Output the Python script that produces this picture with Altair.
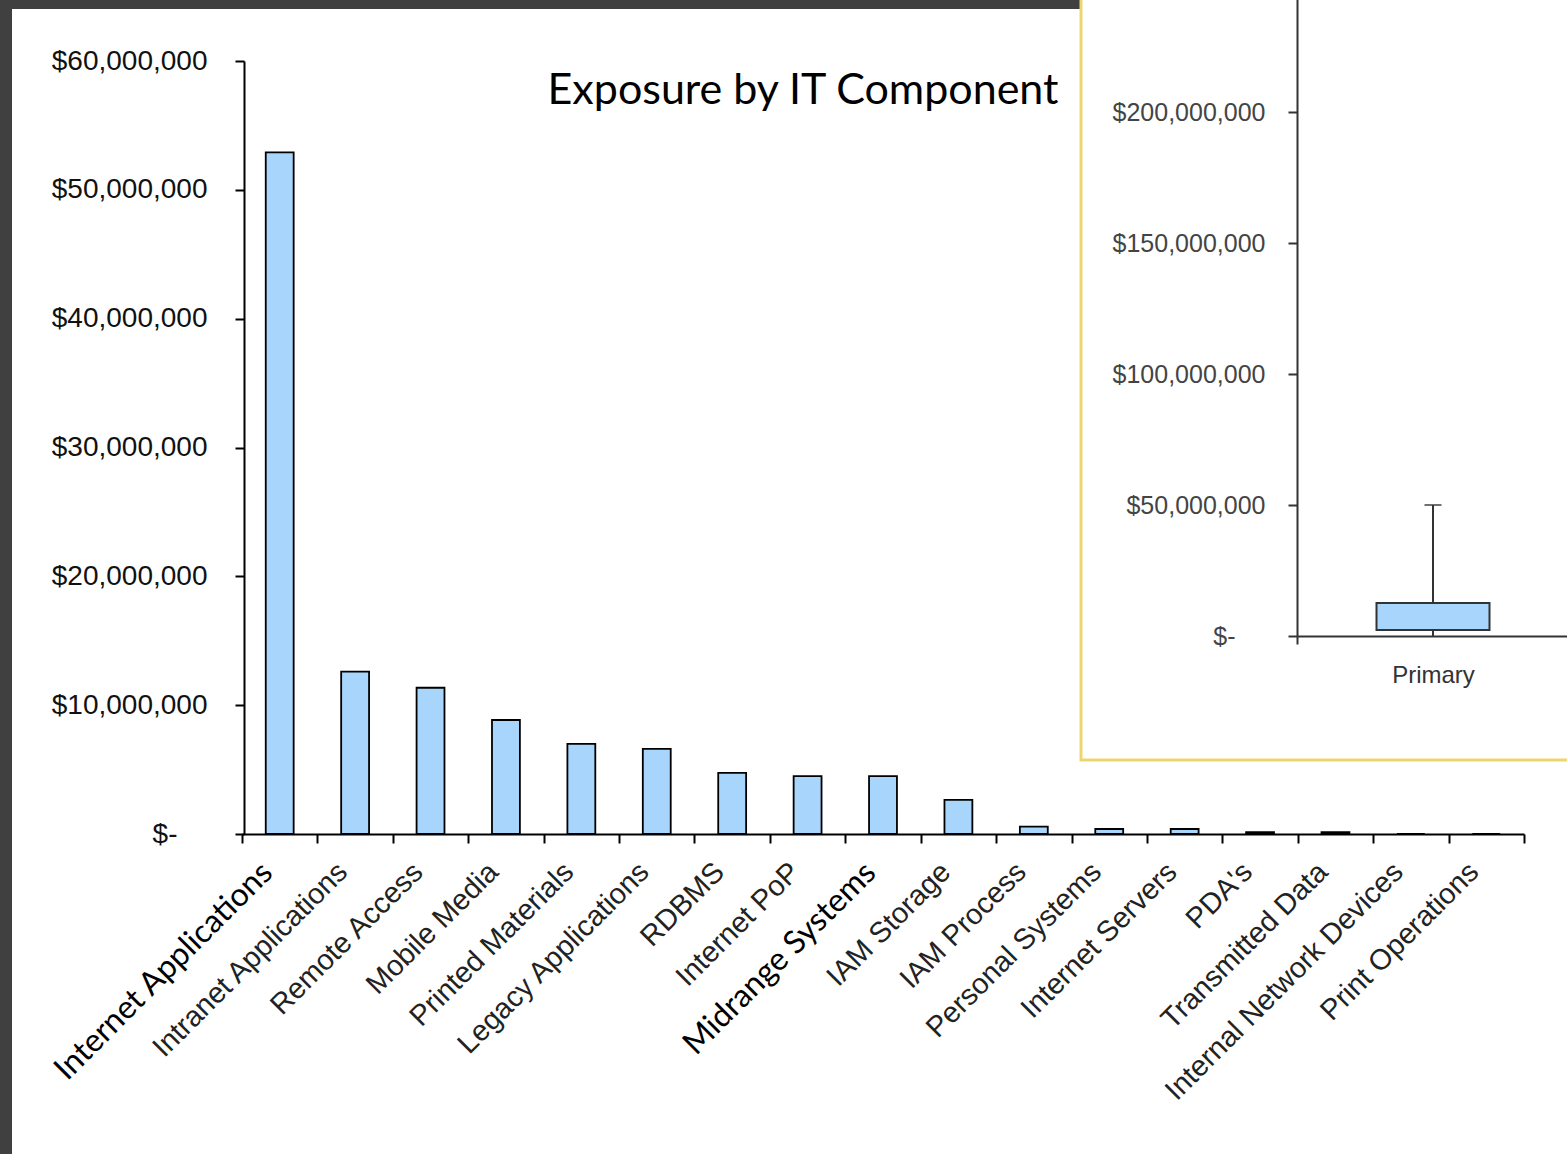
import altair as alt
import pandas as pd

# ---------------- data ----------------
categories = ["Internet Applications", "Intranet Applications", "Remote Access", "Mobile Media",
              "Printed Materials", "Legacy Applications", "RDBMS", "Internet PoP", "Midrange Systems",
              "IAM Storage", "IAM Process", "Personal Systems", "Internet Servers", "PDA's",
              "Transmitted Data", "Internal Network Devices", "Print Operations"]
exposure = [52900000, 12600000, 11350000, 8850000, 7000000, 6600000, 4750000, 4500000, 4500000,
            2650000, 570000, 390000, 390000, 150000, 150000, 0, 0]
main_ticks = [10000000, 20000000, 30000000, 40000000, 50000000, 60000000]
zero_tick = [0]

box_group = ["Primary"]
box_low = [0]
box_q1 = [2300000]
box_q3 = [12600000]
box_high = [50000000]
inset_ticks = [50000000, 100000000, 150000000, 200000000]

title_text = "Exposure by IT Component"
big_labels = ["Internet Applications", "Midrange Systems"]

# ---------------- styles ----------------
W, H = 1567, 1154
BLUE = "#a8d5fb"
big_test = " || ".join([f"datum.value == \"{b}\"" for b in big_labels])

df = pd.DataFrame({"component": categories, "exposure": exposure})
box_df = pd.DataFrame({"group": box_group, "low": box_low, "q1": box_q1, "q3": box_q3, "high": box_high})
one = pd.DataFrame({"k": [0]})

# gray slide frame
frame_top = alt.Chart(one).mark_rect(fill="#404040").encode(
    x=alt.value(0), x2=alt.value(1082), y=alt.value(0), y2=alt.value(9))
frame_left = alt.Chart(one).mark_rect(fill="#404040").encode(
    x=alt.value(0), x2=alt.value(12), y=alt.value(0), y2=alt.value(H))

# main bar chart
main_y_scale = alt.Scale(domain=[0, 60000000], range=[834, 61], nice=False, zero=True)
bars = alt.Chart(df).mark_bar(fill=BLUE, stroke="#000", strokeWidth=1.8, width={"band": 0.37}).encode(
    x=alt.X("component:N", sort=categories,
            scale=alt.Scale(range=[242, 1524], paddingInner=0, paddingOuter=0),
            axis=alt.Axis(orient="bottom", offset=834 - H, title=None, grid=False,
                          domainColor="#000", domainWidth=2, tickColor="#000", tickWidth=2,
                          tickSize=9, tickBand="extent", labelAngle=-45, labelAlign="right",
                          labelBaseline="middle", labelPadding=24, labelOffset=-13,
                          labelFont={"condition": {"test": big_test, "value": "Lato"},
                                     "value": "Liberation Sans"},
                          labelFontSize={"condition": {"test": big_test, "value": 32},
                                         "value": 29},
                          labelColor={"condition": {"test": big_test, "value": "#000"},
                                      "value": "#222"},
                          labelLimit=0, labelOverlap=False, labelBound=False, zindex=1)),
    y=alt.Y("exposure:Q", scale=main_y_scale,
            axis=alt.Axis(orient="left", offset=-244, title=None, grid=False, values=main_ticks,
                          labelExpr="'$' + format(datum.value, ',')",
                          domainColor="#000", domainWidth=2, tickColor="#000", tickWidth=2,
                          tickSize=9, labelPadding=28, labelFont="Liberation Sans",
                          labelFontSize=28, labelColor="#111", labelBaseline="middle",
                          labelOverlap=False, labelBound=False, zindex=1)),
)
# the "$-" zero label sits further left (accounting format)
main_zero = alt.Chart(df).mark_tick(opacity=0).encode(
    y=alt.Y("exposure:Q", scale=main_y_scale,
            axis=alt.Axis(orient="left", offset=-244, title=None, grid=False, values=zero_tick,
                          labelExpr="'$-'", domain=False, tickColor="#000", tickWidth=2,
                          tickSize=9, labelPadding=58, labelFont="Liberation Sans",
                          labelFontSize=28, labelColor="#111", labelBaseline="middle",
                          labelBound=False, zindex=1)))

# inset panel
panel = alt.Chart(one).mark_rect(fill="white", stroke="#eed66f", strokeWidth=3).encode(
    x=alt.value(1081), x2=alt.value(1620), y=alt.value(-20), y2=alt.value(760))

xs = alt.X("group:N",
           scale=alt.Scale(range=[1297, 1569], paddingInner=0, paddingOuter=0),
           axis=alt.Axis(orient="bottom", offset=636 - H, title=None, grid=False,
                         domainColor="#333", domainWidth=2, tickColor="#333", tickWidth=2,
                         tickSize=8, tickBand="extent", labelAngle=0, labelFont="Liberation Sans",
                         labelFontSize=24, labelColor="#333", labelPadding=19, zindex=1))
yscale = alt.Scale(domain=[0, 250000000], range=[636, -19], nice=False, zero=True)
yaxis = alt.Axis(orient="left", offset=-1297, title=None, grid=False, values=inset_ticks,
                 labelExpr="'$' + format(datum.value, ',')",
                 domainColor="#333", domainWidth=2, tickColor="#333", tickWidth=2, tickSize=9,
                 labelPadding=23, labelFont="Liberation Sans", labelFontSize=25,
                 labelColor="#444", labelBaseline="middle", labelOverlap=False,
                 labelBound=False, zindex=1)

whisk_hi = alt.Chart(box_df).mark_rule(color="#333", strokeWidth=2).encode(
    x=xs, y=alt.Y("q3:Q", scale=yscale, axis=yaxis), y2="high:Q")
whisk_lo = alt.Chart(box_df).mark_rule(color="#333", strokeWidth=2).encode(
    x=xs, y=alt.Y("low:Q", scale=yscale, axis=yaxis), y2="q1:Q")
box = alt.Chart(box_df).mark_bar(fill=BLUE, stroke="#333", strokeWidth=2, width=113).encode(
    x=xs, y=alt.Y("q1:Q", scale=yscale, axis=yaxis), y2="q3:Q")
cap = alt.Chart(box_df).mark_tick(color="#333", size=17, thickness=2).encode(
    x=xs, y=alt.Y("high:Q", scale=yscale, axis=yaxis))
inset = alt.layer(whisk_lo, whisk_hi, box, cap)

inset_zero = alt.Chart(box_df).mark_tick(opacity=0).encode(
    y=alt.Y("low:Q", scale=yscale,
            axis=alt.Axis(orient="left", offset=-1297, title=None, grid=False, values=zero_tick,
                          labelExpr="'$-'", domain=False, tickColor="#333", tickWidth=2,
                          tickSize=9, labelPadding=53, labelFont="Liberation Sans",
                          labelFontSize=25, labelColor="#444", labelBaseline="middle",
                          labelBound=False, zindex=1)))

title = alt.Chart(one).mark_text(text=title_text, font="Lato", fontSize=43, align="center",
                                 baseline="alphabetic", color="#000").encode(
    x=alt.value(803), y=alt.value(104))

chart = alt.layer(frame_top, frame_left, bars, main_zero, panel, inset, inset_zero, title).resolve_scale(
    x="independent", y="independent"
).properties(
    width=W, height=H, padding=0, autosize=alt.AutoSizeParams(type="none"), background="white"
).configure_view(strokeWidth=0)

chart.save("out.html", embed_options={"renderer": "svg", "actions": False})
